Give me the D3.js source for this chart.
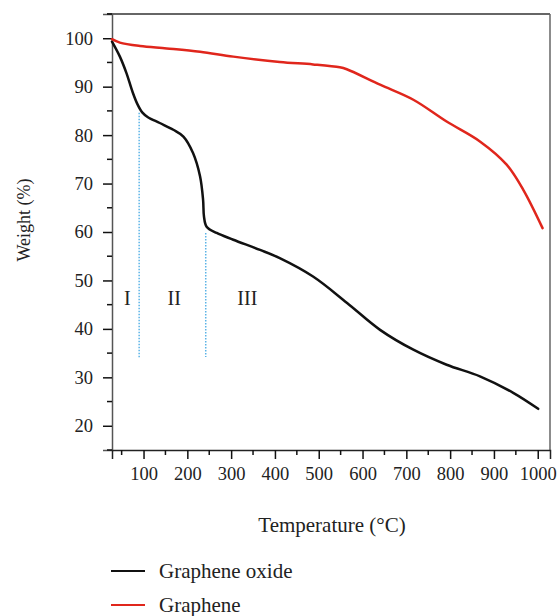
<!DOCTYPE html>
<html>
<head>
<meta charset="utf-8">
<script src="https://cdn.jsdelivr.net/npm/d3@7/dist/d3.min.js"></script>
<style>
  html, body { margin: 0; padding: 0; background: #fff; }
  svg { display: block; }
  text { font-family: "Liberation Serif", "DejaVu Serif", serif; fill: #222; }
</style>
</head>
<body>
<svg id="chart" width="559" height="616"></svg>
<script>
// TGA curves: temperature (°C) vs remaining weight (%)
const goTemp   = [28, 46, 61, 75, 86, 97, 110, 137, 168, 191, 213, 229, 236, 238, 244, 267, 305, 366, 411, 487, 564, 640, 716, 792, 868, 944, 1001];
const goWeight = [99.3, 96.2, 92.8, 88.9, 86.4, 84.7, 83.7, 82.5, 81.1, 79.7, 76.3, 71.5, 66.6, 63.2, 61.1, 59.8, 58.4, 56.3, 54.6, 50.8, 45.4, 39.8, 35.7, 32.6, 30.2, 26.8, 23.5];

const grTemp   = [28, 46, 92, 153, 229, 305, 411, 487, 548, 564, 640, 716, 792, 868, 929, 967, 1011];
const grWeight = [99.8, 99.1, 98.4, 97.9, 97.2, 96.2, 95.1, 94.6, 94.0, 93.6, 90.4, 87.3, 82.8, 78.7, 73.9, 68.7, 60.8];

// Stage boundaries (temperature) and the weight span of each marker line
const stageLines = [
  { t: 90,  top: 84.6, bottom: 33.9 },
  { t: 242, top: 59.8, bottom: 34.2 }
];
const stageLabels = ["I", "II", "III"];
const stageLabelTemp = [63, 170, 337];
const stageLabelWeight = 45;

const xTicks = [100, 200, 300, 400, 500, 600, 700, 800, 900, 1000];
const yTicks = [20, 30, 40, 50, 60, 70, 80, 90, 100];

const seriesNames = ["Graphene oxide", "Graphene"];
const seriesColors = ["#111111", "#e0261c"];

const svg = d3.select("#chart");
const plot = { left: 112, right: 550, top: 14, bottom: 450 };

const x = d3.scaleLinear().domain([28, 1028]).range([plot.left, plot.right]);
const y = d3.scaleLinear().domain([15, 105]).range([plot.bottom, plot.top]);

// Frame: top and right edges
svg.append("line")
  .attr("x1", plot.left - 5).attr("x2", plot.right)
  .attr("y1", plot.top).attr("y2", plot.top)
  .attr("stroke", "#333").attr("stroke-width", 1.5);
svg.append("line")
  .attr("x1", plot.right).attr("x2", plot.right)
  .attr("y1", plot.top).attr("y2", plot.bottom)
  .attr("stroke", "#666").attr("stroke-width", 1.5);

// Y axis with major and minor ticks
const yMinor = d3.range(15, 106, 10);
const yAxisG = svg.append("g").attr("transform", `translate(${plot.left},0)`);
yAxisG.call(d3.axisLeft(y).tickValues(yTicks).tickSize(9).tickPadding(10).tickFormat(d3.format("d")));
yAxisG.append("g").selectAll("line").data(yMinor).join("line")
  .attr("x1", -5).attr("x2", 0)
  .attr("y1", d => y(d)).attr("y2", d => y(d))
  .attr("stroke", "#111").attr("stroke-width", 1.5);
yAxisG.select(".domain").attr("stroke", "#555").attr("stroke-width", 1.5);
yAxisG.selectAll(".tick line").attr("stroke", "#111").attr("stroke-width", 1.5);
yAxisG.selectAll(".tick text").attr("font-size", 18.5).attr("fill", "#222");

// X axis with major and minor ticks
const xMinor = d3.range(50, 1001, 100);
const xAxisG = svg.append("g").attr("transform", `translate(0,${plot.bottom})`);
xAxisG.call(d3.axisBottom(x).tickValues(xTicks).tickSize(9).tickPadding(8).tickFormat(d3.format("d")));
xAxisG.append("g").selectAll("line").data(xMinor).join("line")
  .attr("x1", d => x(d)).attr("x2", d => x(d))
  .attr("y1", 0).attr("y2", 5)
  .attr("stroke", "#111").attr("stroke-width", 1.5);
xAxisG.select(".domain").attr("stroke", "#222").attr("stroke-width", 1.5);
xAxisG.selectAll(".tick line").attr("stroke", "#111").attr("stroke-width", 1.5);
xAxisG.selectAll(".tick text").attr("font-size", 18.5).attr("fill", "#222");

// Stage marker lines
svg.append("g").selectAll("line").data(stageLines).join("line")
  .attr("x1", d => x(d.t)).attr("x2", d => x(d.t))
  .attr("y1", d => y(d.top)).attr("y2", d => y(d.bottom))
  .attr("stroke", "#5bb3e6").attr("stroke-width", 1.5)
  .attr("stroke-dasharray", "1.5,1.5");

svg.append("g").selectAll("text").data(stageLabels).join("text")
  .attr("x", (d, i) => x(stageLabelTemp[i]))
  .attr("y", y(stageLabelWeight))
  .attr("text-anchor", "middle")
  .attr("font-size", 20)
  .text(d => d);

// Curves
const line = d3.line().curve(d3.curveCatmullRom.alpha(0.5)).x(d => x(d[0])).y(d => y(d[1]));
const series = [
  d3.zip(goTemp, goWeight),
  d3.zip(grTemp, grWeight)
];
svg.append("g").selectAll("path").data(series).join("path")
  .attr("d", line)
  .attr("fill", "none")
  .attr("stroke", (d, i) => seriesColors[i])
  .attr("stroke-width", 2.5)
  .attr("stroke-linejoin", "round")
  .attr("stroke-linecap", "round");

// Axis titles
svg.append("text")
  .attr("transform", "translate(30,220) rotate(-90)")
  .attr("text-anchor", "middle")
  .attr("font-size", 18)
  .text("Weight (%)");
svg.append("text")
  .attr("x", 332).attr("y", 531.5)
  .attr("text-anchor", "middle")
  .attr("font-size", 21)
  .text("Temperature (°C)");

// Legend
const legend = svg.append("g").selectAll("g").data(seriesNames).join("g")
  .attr("transform", (d, i) => `translate(111,${571 + i * 34})`);
legend.append("line")
  .attr("x1", 0).attr("x2", 34).attr("y1", 0).attr("y2", 0)
  .attr("stroke", (d, i) => seriesColors[i]).attr("stroke-width", 2);
legend.append("text")
  .attr("x", 48).attr("y", 6.5)
  .attr("font-size", 21)
  .text(d => d);
</script>
</body>
</html>
